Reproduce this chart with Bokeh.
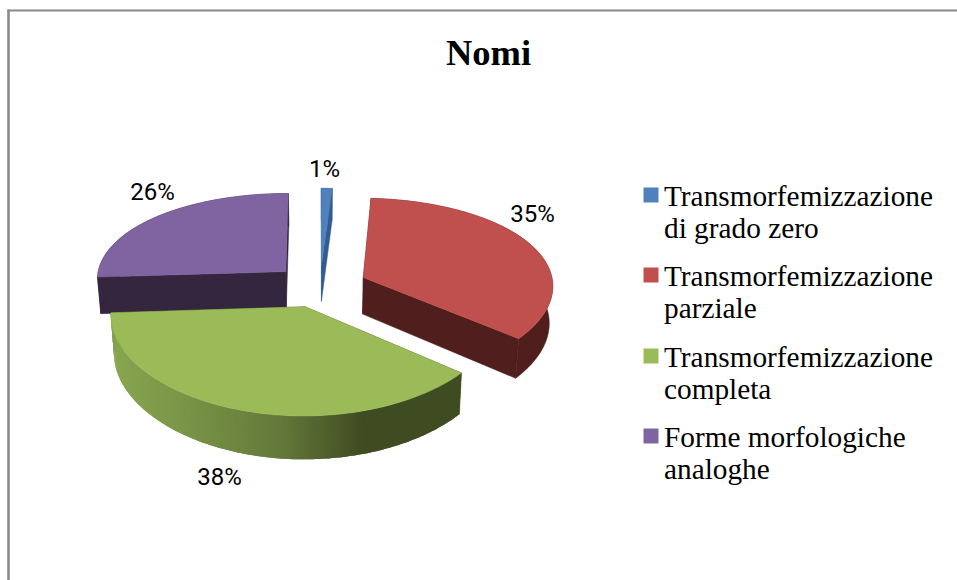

import numpy as np
from bokeh.plotting import figure
from bokeh.models import Range1d
from bokeh.core.properties import value
from bokeh.embed import file_html
from bokeh.resources import INLINE

title_text = "Nomi"
categories = [["Transmorfemizzazione", "di grado zero"],
              ["Transmorfemizzazione", "parziale"],
              ["Transmorfemizzazione", "completa"],
              ["Forme morfologiche", "analoghe"]]
percentages = [1, 35, 38, 26]
top_colors = ["#4f81bd", "#c0504d", "#9bbb59", "#8064a2"]
wall_colors = ["#2f5d91", "#4f1e1d", "#3f4c22", "#35263f"]
# percent-label anchors and legend rows are layout constants, in page pixels
pct_anchor = [(324, 168), (532, 213), (219, 476), (152, 191)]
legend_tops = [187, 267, 348, 428]

# projection of an exploded, tilted disc
CX, CY, A, B, KX, KY, DEPTH, EXPL_X, EXPL_Y, BOTTOM_SCALE = 319.5, 285.4, 190.0, 90.7, 0.08, 0.12, 37.0, 0.25, 0.235, 0.985


def project(X, Y, lower=False):
    fx = 1 / (1 + KX * Y)
    fy = 1 / (1 + KY * Y)
    x = CX + A * X * fx
    y = CY - B * Y * fy
    if lower:
        x = CX + (x - CX) * BOTTOM_SCALE
        y = y + DEPTH * fy
    return x, y


def green_shade(px):
    xs = [113, 180, 280, 363]
    rgb = [(0x88, 0xa6, 0x50), (0x7a, 0x96, 0x48), (0x64, 0x79, 0x3a), (0x3f, 0x4c, 0x22)]
    c = [int(np.interp(px, xs, [v[i] for v in rgb])) for i in range(3)]
    return "#%02x%02x%02x" % tuple(c)


p = figure(width=957, height=580, output_backend="svg", toolbar_location=None,
           x_range=Range1d(0, 957), y_range=Range1d(580, 0),
           min_border=0, outline_line_color=None)
p.axis.visible = False
p.grid.visible = False
p.background_fill_color = "white"
p.border_fill_color = "white"

# frame of the original picture
p.line([8, 8], [580, 9], line_color="#8a8a8a", line_width=2.6)
p.line([7, 957], [10, 10], line_color="#8a8a8a", line_width=2)

# slices, back to front
fractions = np.array(percentages) / sum(percentages)
ends = np.cumsum(fractions) * 2 * np.pi
starts = ends - fractions * 2 * np.pi
for i in [3, 0, 1, 2]:
    t0, t1 = starts[i], ends[i]
    mid = (t0 + t1) / 2
    ox, oy = EXPL_X * np.sin(mid), EXPL_Y * np.cos(mid)
    th = np.linspace(t0, t1, max(4, int(percentages[i] * 4)))
    RX, RY = ox + np.sin(th), oy + np.cos(th)
    tx, ty = project(RX, RY)
    bx, by = project(RX, RY, lower=True)
    ax, ay = project(ox, oy)
    alx, aly = project(ox, oy, lower=True)
    # radial walls
    for k in (0, -1):
        p.patch([ax, tx[k], bx[k], alx], [ay, ty[k], by[k], aly],
                fill_color=wall_colors[i], line_color=wall_colors[i], line_width=0.5)
    # outer wall: one piece, or overlapping strips for the shaded green one
    if i == 2:
        sx, sy, sc = [], [], []
        for j in range(len(th) - 1):
            e = min(j + 2, len(th) - 1)
            sx.append([tx[j], *tx[j + 1:e + 1], *bx[j + 1:e + 1][::-1], bx[j]])
            sy.append([ty[j], *ty[j + 1:e + 1], *by[j + 1:e + 1][::-1], by[j]])
            sc.append(green_shade((tx[j] + tx[j + 1]) / 2))
        p.patches(sx, sy, fill_color=sc, line_color=None)
    else:
        p.patch([*tx, *bx[::-1]], [*ty, *by[::-1]], fill_color=wall_colors[i],
                line_color=wall_colors[i], line_width=0.5)
    # top face
    p.patch([ax, *tx], [ay, *ty], fill_color=top_colors[i], line_color=top_colors[i], line_width=0.5)

# percent labels
p.text([a[0] for a in pct_anchor], [a[1] for a in pct_anchor],
       text=[f"{v}%" for v in percentages], text_font=value("Roboto"), text_font_size="24px",
       text_color="#000000", text_align="center", text_baseline="middle")

# title
p.text([488], [52], text=[title_text], text_font=value("Liberation Serif"), text_font_style="bold",
       text_font_size="36.5px", text_color="#000000", text_align="center", text_baseline="alphabetic")

# legend
for top, lines, col in zip(legend_tops, categories, top_colors):
    p.quad(left=[643], right=[658], top=[top], bottom=[top + 15], fill_color=col, line_color=None)
    p.text([663.5, 663.5], [top + 8, top + 40], text=lines, text_font=value("Liberation Serif"),
           text_font_size="29.3px", text_color="#000000", text_align="left", text_baseline="alphabetic")

open("out.html", "w").write(file_html(p, INLINE))
